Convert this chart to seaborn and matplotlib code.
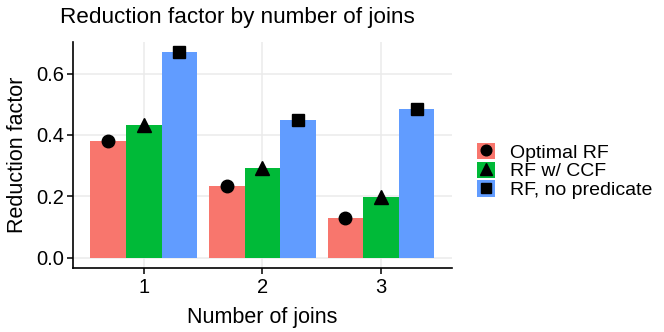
import pandas as pd
import numpy as np
import matplotlib
matplotlib.use("Agg")
import matplotlib.pyplot as plt
import seaborn as sns
from matplotlib.patches import Patch
from matplotlib.lines import Line2D

# values
joins = ["1", "2", "3"]
methods = ["Optimal RF", "RF w/ CCF", "RF, no predicate"]
optimal_rf = [0.380, 0.234, 0.130]
rf_ccf = [0.434, 0.291, 0.197]
rf_no_pred = [0.670, 0.450, 0.486]

colors = ["#F8766D", "#00BA38", "#619CFF"]
markers = ["o", "^", "s"]
msizes = [9, 10.5, 9]

series = [optimal_rf, rf_ccf, rf_no_pred]
data = pd.DataFrame({
    "joins": joins * 3,
    "method": np.repeat(methods, 3),
    "rf": optimal_rf + rf_ccf + rf_no_pred,
})

sns.set_theme(style="white")
plt.rcParams["font.family"] = ["Liberation Sans", "DejaVu Sans"]
plt.rcParams["text.color"] = "black"
plt.rcParams["axes.labelcolor"] = "black"

fig = plt.figure(figsize=(6.64, 3.32), dpi=100)
ax = fig.add_axes([0.1095, 0.193, 0.5715, 0.681])

sns.barplot(data=data, x="joins", y="rf", hue="method", hue_order=methods,
            palette=colors, saturation=1, width=0.9, ax=ax, legend=False,
            linewidth=0, zorder=2)

# black markers sitting on top of each bar
for cont, vals, m, ms in zip(ax.containers, series, markers, msizes):
    xs = [p.get_x() + p.get_width() / 2 for p in cont]
    ax.plot(xs, vals, ls="none", marker=m, markersize=ms, color="black", zorder=3)

ax.set_xlim(-0.6, 2.6)
ax.set_ylim(-0.0335, 0.7035)
ax.set_yticks([0.0, 0.2, 0.4, 0.6])
ax.set_yticklabels(["0.0", "0.2", "0.4", "0.6"])
ax.grid(True, color="#EBEBEB", linewidth=1.1, zorder=0)
ax.set_axisbelow(True)
for s in ["top", "right"]:
    ax.spines[s].set_visible(False)
for s in ["left", "bottom"]:
    ax.spines[s].set_color("black")
    ax.spines[s].set_linewidth(1.2)
ax.tick_params(axis="both", length=4.3, width=1.1, color="black",
               labelsize=14.5, labelcolor="black", left=True, bottom=True)
ax.tick_params(axis="y", pad=2)
ax.tick_params(axis="x", pad=3)

ax.set_xlabel("Number of joins", fontsize=15.5, labelpad=7)
ax.set_ylabel("Reduction factor", fontsize=15.5, labelpad=6)
fig.text(0.091, 0.931, "Reduction factor by number of joins", fontsize=16.2,
         ha="left", va="baseline")

handles = [(Patch(facecolor=c, edgecolor="none"),
            Line2D([], [], ls="none", marker=m, markersize=ms * 0.85, color="black"))
           for c, m, ms in zip(colors, markers, msizes)]
fig.legend(handles, methods, loc="center left", bbox_to_anchor=(0.706, 0.485),
           frameon=False, fontsize=14, handlelength=0.95, handleheight=0.9,
           handletextpad=0.75, labelspacing=0.0, borderaxespad=0)

fig.savefig("out.png", dpi=100)
